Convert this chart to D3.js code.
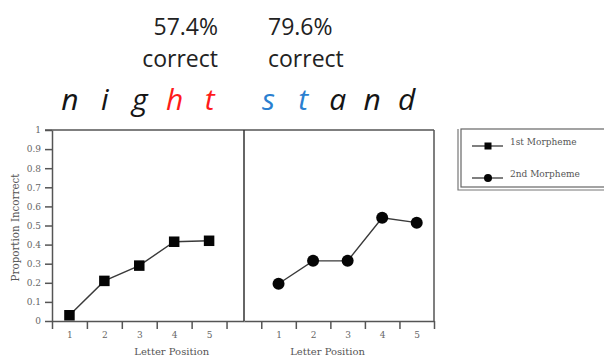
<!DOCTYPE html>
<html>
<head>
<meta charset="utf-8">
<script src="https://cdn.jsdelivr.net/npm/d3@7"></script>
<style>
  html, body { margin: 0; padding: 0; background: #fff; }
  svg { display: block; }
</style>
</head>
<body>
<svg id="chart" width="604" height="356"></svg>
<script>
// ---- data ----
const positions = [1, 2, 3, 4, 5];
const firstMorpheme = [0.03, 0.21, 0.29, 0.415, 0.42];
const secondMorpheme = [0.195, 0.315, 0.315, 0.54, 0.515];
const yTickValues = [0, 0.1, 0.2, 0.3, 0.4, 0.5, 0.6, 0.7, 0.8, 0.9, 1];
const xMinorTicks = [0.5, 1.5, 2.5, 3.5, 4.5, 5.5];
const word1 = ["n", "i", "g", "h", "t"];
const word1Colors = ["#151515", "#151515", "#151515", "#ff1a1a", "#ff1a1a"];
const word2 = ["s", "t", "a", "n", "d"];
const word2Colors = ["#2a7fd0", "#2a7fd0", "#151515", "#151515", "#151515"];
const pctLabels = ["57.4%", "79.6%"];
const correctLabel = "correct";
const legendLabels = ["1st Morpheme", "2nd Morpheme"];
const yTitle = "Proportion Incorrect";
const xTitle = "Letter Position";

// ---- layout ----
const svg = d3.select("#chart");
const pLeft = 52, pMid = 244, pRight = 434, pTop = 130, pBottom = 321;
const xL = d3.scaleLinear().domain([0.5, 6]).range([pLeft, pMid]);
const xR = d3.scaleLinear().domain([0, 5.5]).range([pMid, pRight]);
const y = d3.scaleLinear().domain([0, 1]).range([pBottom, pTop]);

const axisColor = "#555";
const serif = "DejaVu Serif, serif";

// y axis
const yAxis = svg.append("g").attr("transform", `translate(${pLeft},0)`)
  .call(d3.axisLeft(y).tickValues(yTickValues).tickSize(7).tickPadding(4).tickSizeOuter(0)
    .tickFormat(d => (d === 0 || d === 1) ? String(d) : d.toFixed(1)));
yAxis.selectAll("path, line").attr("stroke", axisColor).attr("stroke-width", 1.5);
yAxis.selectAll("text").attr("font-family", serif).attr("font-size", 9).attr("fill", "#666");

// x axes: tick marks
function xTickAxis(scale) {
  const g = svg.append("g").attr("transform", `translate(0,${pBottom})`)
    .call(d3.axisBottom(scale).tickValues(xMinorTicks).tickSize(8).tickSizeOuter(0).tickFormat(""));
  g.selectAll("path, line").attr("stroke", axisColor).attr("stroke-width", 1.5);
  const g2 = svg.append("g").attr("transform", `translate(0,${pBottom})`)
    .call(d3.axisBottom(scale).tickValues(positions).tickSize(0).tickPadding(11).tickFormat(d3.format("d")));
  g2.select("path").remove();
  g2.selectAll("text").attr("font-family", serif).attr("font-size", 9).attr("fill", "#666");
}
xTickAxis(xL);
xTickAxis(xR);

// frame: top, right, divider
svg.append("line").attr("x1", pLeft - 7).attr("x2", pRight).attr("y1", pTop).attr("y2", pTop)
  .attr("stroke", axisColor).attr("stroke-width", 1.5);
svg.append("line").attr("x1", pRight).attr("x2", pRight).attr("y1", pTop).attr("y2", pBottom)
  .attr("stroke", axisColor).attr("stroke-width", 1.5);
svg.append("line").attr("x1", pMid).attr("x2", pMid).attr("y1", pTop).attr("y2", pBottom)
  .attr("stroke", "#333").attr("stroke-width", 1.5);

// axis titles
svg.append("text").attr("transform", `translate(19,${(pTop + pBottom) / 2 + 2}) rotate(-90)`)
  .attr("text-anchor", "middle").attr("font-family", serif).attr("font-size", 10.3)
  .attr("fill", "#555").text(yTitle);
svg.append("text").attr("x", xL(3.93)).attr("y", 355).attr("text-anchor", "middle")
  .attr("font-family", serif).attr("font-size", 10).attr("fill", "#555").text(xTitle);
svg.append("text").attr("x", xR(2.42)).attr("y", 355).attr("text-anchor", "middle")
  .attr("font-family", serif).attr("font-size", 10).attr("fill", "#555").text(xTitle);

// series lines
const lineColor = "#3a3a3a";
const lineL = d3.line().x((d, i) => xL(positions[i])).y(d => y(d));
const lineR = d3.line().x((d, i) => xR(positions[i])).y(d => y(d));
svg.append("path").attr("d", lineL(firstMorpheme)).attr("fill", "none")
  .attr("stroke", lineColor).attr("stroke-width", 1.4);
svg.append("path").attr("d", lineR(secondMorpheme)).attr("fill", "none")
  .attr("stroke", lineColor).attr("stroke-width", 1.4);

const sq = 10.5;
svg.selectAll("rect.m1").data(firstMorpheme).enter().append("rect").attr("class", "m1")
  .attr("x", (d, i) => xL(positions[i]) - sq / 2).attr("y", d => y(d) - sq / 2)
  .attr("width", sq).attr("height", sq).attr("fill", "#050505");
svg.selectAll("circle.m2").data(secondMorpheme).enter().append("circle").attr("class", "m2")
  .attr("cx", (d, i) => xR(positions[i])).attr("cy", d => y(d)).attr("r", 6)
  .attr("fill", "#050505");

// big words
const wordFont = "'Open Sans', sans-serif";
svg.selectAll("text.w1").data(word1).enter().append("text").attr("class", "w1")
  .attr("x", (d, i) => xL(positions[i]) + 0.5).attr("y", 110)
  .attr("text-anchor", "middle").attr("font-family", wordFont).attr("font-style", "italic")
  .attr("font-size", 30).attr("fill", (d, i) => word1Colors[i]).text(d => d);
svg.selectAll("text.w2").data(word2).enter().append("text").attr("class", "w2")
  .attr("x", (d, i) => xR(positions[i]) - 10).attr("y", 110)
  .attr("text-anchor", "middle").attr("font-family", wordFont).attr("font-style", "italic")
  .attr("font-size", 30).attr("fill", (d, i) => word2Colors[i]).text(d => d);

// percentage labels
svg.append("text").attr("x", 218).attr("y", 35).attr("text-anchor", "end")
  .attr("font-family", wordFont).attr("font-size", 23).attr("fill", "#222").text(pctLabels[0]);
svg.append("text").attr("x", 218).attr("y", 67).attr("text-anchor", "end")
  .attr("font-family", wordFont).attr("font-size", 23).attr("fill", "#222").text(correctLabel);
svg.append("text").attr("x", 268).attr("y", 35).attr("text-anchor", "start")
  .attr("font-family", wordFont).attr("font-size", 23).attr("fill", "#222").text(pctLabels[1]);
svg.append("text").attr("x", 268).attr("y", 67).attr("text-anchor", "start")
  .attr("font-family", wordFont).attr("font-size", 23).attr("fill", "#222").text(correctLabel);

// legend
const lg = svg.append("g");
lg.append("path").attr("d", "M458,129 L458,190 L620,190").attr("fill", "none")
  .attr("stroke", "#777").attr("stroke-width", 1.2);
lg.append("rect").attr("x", 461).attr("y", 129).attr("width", 160).attr("height", 58)
  .attr("fill", "none").attr("stroke", "#666").attr("stroke-width", 1.2);
const rowsY = [146, 178];
legendLabels.forEach((lab, i) => {
  lg.append("line").attr("x1", 472).attr("x2", 503).attr("y1", rowsY[i]).attr("y2", rowsY[i])
    .attr("stroke", lineColor).attr("stroke-width", 1.3);
  if (i === 0) {
    lg.append("rect").attr("x", 488 - 3.5).attr("y", rowsY[i] - 3.5).attr("width", 7).attr("height", 7)
      .attr("fill", "#050505");
  } else {
    lg.append("circle").attr("cx", 488).attr("cy", rowsY[i]).attr("r", 4).attr("fill", "#050505");
  }
  lg.append("text").attr("x", 510).attr("y", rowsY[i] - 1).attr("font-family", serif)
    .attr("font-size", 9).attr("fill", "#555").text(lab);
});
</script>
</body>
</html>
